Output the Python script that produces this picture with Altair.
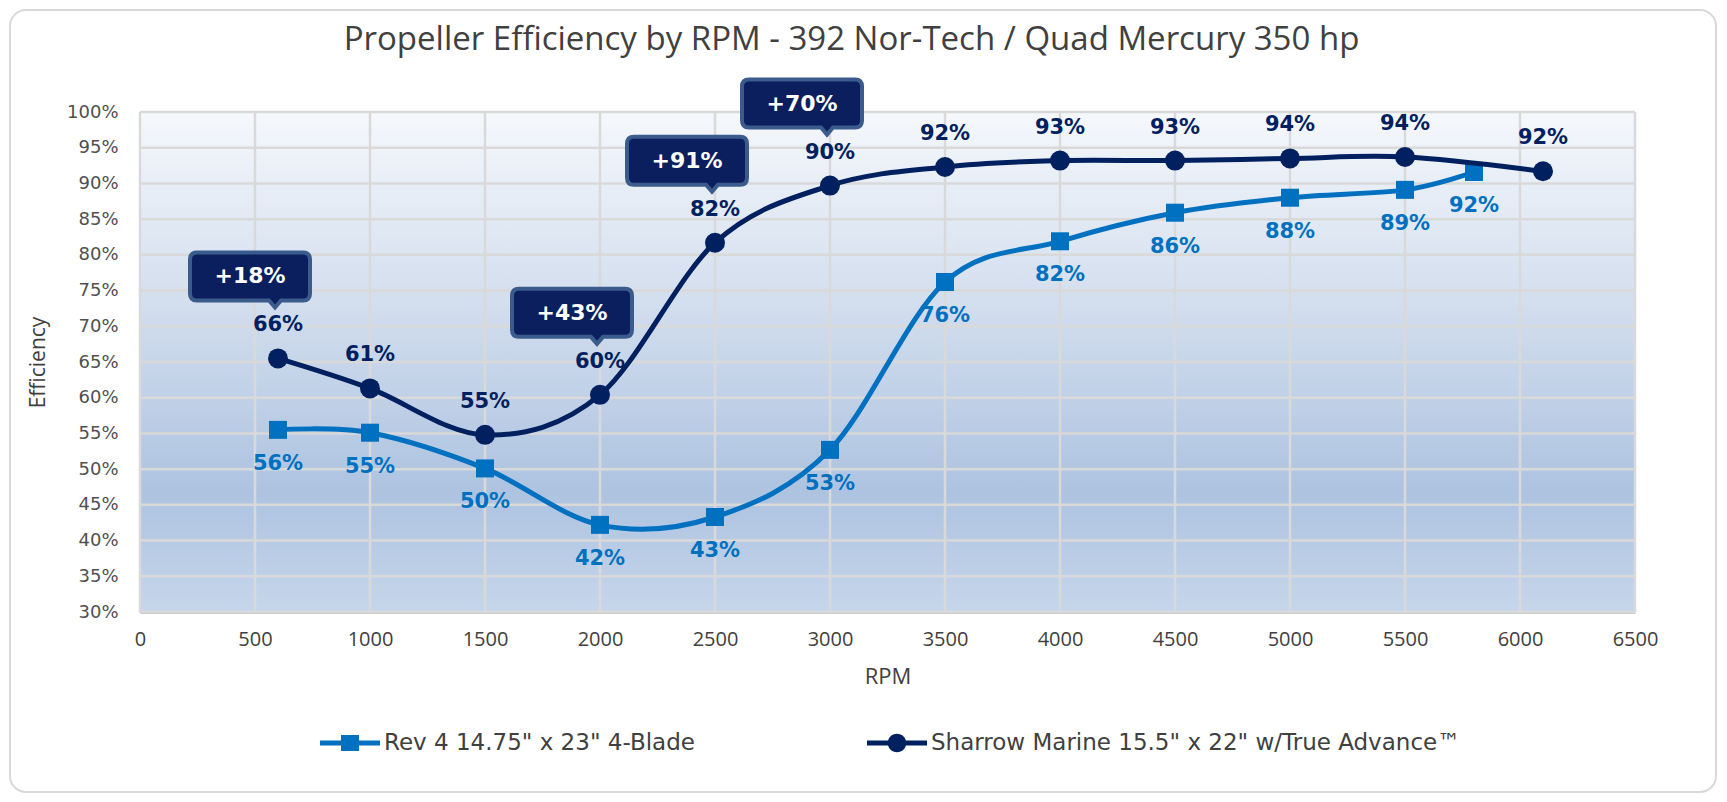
import altair as alt
import pandas as pd

# ---- data ----
rev_rpm = [600, 1000, 1500, 2000, 2500, 3000, 3500, 4000, 4500, 5000, 5500, 5800]
rev_eff = [55.5, 55.1, 50.1, 42.2, 43.3, 52.7, 76.2, 81.9, 85.9, 88.0, 89.1, 91.6]
rev_lbl = ["56%", "55%", "50%", "42%", "43%", "53%", "76%", "82%", "86%", "88%", "89%", "92%"]

sha_rpm = [600, 1000, 1500, 2000, 2500, 3000, 3500, 4000, 4500, 5000, 5500, 6100]
sha_eff = [65.5, 61.3, 54.8, 60.4, 81.7, 89.7, 92.3, 93.2, 93.2, 93.5, 93.7, 91.7]
sha_lbl = ["66%", "61%", "55%", "60%", "82%", "90%", "92%", "93%", "93%", "94%", "94%", "92%"]

gain_rpm = [600, 2000, 2500, 3000]
gain_lbl = ["+18%", "+43%", "+91%", "+70%"]

series_names = ['Rev 4 14.75" x 23" 4-Blade', 'Sharrow Marine 15.5" x 22" w/True Advance\u2122']
series_colors = ["#0070C0", "#002060"]

x_ticks = list(range(0, 6501, 500))
y_ticks = list(range(30, 101, 5))

TITLE = ["Propeller Efficiency by RPM - 392 Nor-Tech / Quad Mercury 350 hp"]

# ---- tables ----
rev_df = pd.DataFrame({"rpm": rev_rpm, "eff": rev_eff, "lbl": rev_lbl})
sha_df = pd.DataFrame({"rpm": sha_rpm, "eff": sha_eff, "lbl": sha_lbl})
gain_df = pd.DataFrame({"rpm": gain_rpm, "gain": gain_lbl}).merge(sha_df[["rpm", "eff"]], on="rpm")
legend_df = pd.DataFrame({"rpm": [0, 0], "eff": [50, 50], "series": series_names})
xgrid_df = pd.DataFrame({"rpm": x_ticks})
ygrid_df = pd.DataFrame({"eff": y_ticks})
one_df = pd.DataFrame({"k": [0]})
title_df = pd.DataFrame({"t": TITLE})

W, H = 1495, 500
PAD = {"left": 132, "top": 104, "right": 83, "bottom": 182}
GRID = "#d9d9d9"

x_enc = alt.X(
    "rpm:Q",
    scale=alt.Scale(domain=[0, 6500], nice=False, zero=False),
    axis=alt.Axis(
        values=x_ticks, title="RPM", ticks=False, grid=False, labelPadding=17,
        format="d",
        labelFont="Open Sans", labelFontSize=20, labelColor="#404040",
        titleFont="Open Sans", titleFontSize=22, titleFontWeight="normal",
        titleColor="#404040", titlePadding=17,
        domainColor="#c4c4c4", domainWidth=3, labelFlush=False,
    ),
)
y_enc = alt.Y(
    "eff:Q",
    scale=alt.Scale(domain=[30, 100], nice=False, zero=False),
    axis=alt.Axis(
        values=y_ticks, title="Efficiency", ticks=False, grid=False, labelPadding=22,
        labelExpr="datum.value + '%'",
        labelFont="DejaVu Sans", labelFontSize=18, labelColor="#505050",
        titleFont="Open Sans", titleFontSize=21, titleFontWeight="normal",
        titleColor="#404040", titlePadding=18,
        domainColor="#c4c4c4", domainWidth=3,
    ),
)

# outer rounded card (stroke only)
card = alt.Chart(one_df).mark_rect(
    fill="transparent", stroke="#d9d9d9", strokeWidth=2, cornerRadius=16
).encode(
    x=alt.value(-PAD["left"] + 2), x2=alt.value(W + PAD["right"] - 2),
    y=alt.value(-PAD["top"] + 2), y2=alt.value(H + PAD["bottom"] - 2),
)

title = alt.Chart(title_df).mark_text(
    font="Open Sans", fontSize=33, color="#404040", align="center", baseline="middle"
).encode(x=alt.value(W / 2 - 36), y=alt.value(-72), text="t:N")

grad = alt.LinearGradient(
    gradient="linear", x1=0, y1=0, x2=0, y2=1,
    stops=[
        alt.GradientStop(offset=0, color="#f5f8fc"),
        alt.GradientStop(offset=0.38, color="#d3deee"),
        alt.GradientStop(offset=0.76, color="#adc3e0"),
        alt.GradientStop(offset=1, color="#c6d6eb"),
    ],
)
plot_bg = alt.Chart(one_df).mark_rect(fill=grad).encode(
    x=alt.value(0), x2=alt.value(W), y=alt.value(0), y2=alt.value(H)
)

xgrid = alt.Chart(xgrid_df).mark_rule(color=GRID, strokeWidth=2.5).encode(x=x_enc)
ygrid = alt.Chart(ygrid_df).mark_rule(color=GRID, strokeWidth=2.5).encode(y=y_enc)


def series_layers(df, color, shape, size, label_dy):
    line = alt.Chart(df).mark_line(
        interpolate="cardinal", strokeWidth=5, color=color, strokeCap="round"
    ).encode(x=x_enc, y=y_enc)
    pts = alt.Chart(df).mark_point(
        shape=shape, filled=True, size=size, color=color, opacity=1
    ).encode(x=x_enc, y=y_enc)
    lbl = alt.Chart(df).mark_text(
        font="DejaVu Sans", fontWeight="bold", fontSize=21, color=color,
        dy=label_dy, baseline="middle", align="center"
    ).encode(x=x_enc, y=y_enc, text="lbl:N")
    return [line, pts, lbl]


rev_layers = series_layers(rev_df, series_colors[0], "square", 324, 34)
sha_layers = series_layers(sha_df, series_colors[1], "circle", 400, -33)

# callout boxes anchored at the Sharrow points
box_path = ("M-81,-106 L25,-106 Q32,-106 32,-99 L32,-65 Q32,-58 25,-58 "
            "L3,-58 L-3,-51 L-9,-58 L-81,-58 Q-88,-58 -88,-65 L-88,-99 "
            "Q-88,-106 -81,-106 Z")
boxes = alt.Chart(gain_df).mark_point(
    shape=box_path, size=4, filled=True, fill="#0b1f5e", stroke="#3b5b8c",
    strokeWidth=4, opacity=1
).encode(x=x_enc, y=y_enc)
box_text = alt.Chart(gain_df).mark_text(
    font="DejaVu Sans", fontWeight="bold", fontSize=22, color="white",
    dx=-28, dy=-82, baseline="middle", align="center"
).encode(x=x_enc, y=y_enc, text="gain:N")

# legend (line + marker symbols), from an empty layer with explicit domains
rev_sym = ("M-1,-0.08 L1,-0.08 L1,0.08 L-1,0.08 Z "
           "M-0.3,-0.27 L0.3,-0.27 L0.3,0.27 L-0.3,0.27 Z")
sha_sym = ("M-1,-0.08 L1,-0.08 L1,0.08 L-1,0.08 Z "
           "M0.31,0 A0.31,0.31 0 1,1 -0.31,0 A0.31,0.31 0 1,1 0.31,0 Z")
leg = alt.Legend(
    title=None, orient="none", direction="horizontal",
    legendX=180, legendY=601, symbolSize=3600, symbolStrokeWidth=0,
    labelFont="DejaVu Sans", labelFontSize=23, labelColor="#404040",
    labelLimit=800, columnPadding=172, labelOffset=4,
)
legend_layer = alt.Chart(legend_df).transform_filter("datum.rpm < 0").mark_point(
    filled=True, opacity=1
).encode(
    x=x_enc, y=y_enc,
    color=alt.Color("series:N", scale=alt.Scale(domain=series_names, range=series_colors), legend=leg),
    shape=alt.Shape("series:N", scale=alt.Scale(domain=series_names, range=[rev_sym, sha_sym]), legend=leg),
)

chart = alt.layer(
    card, title, plot_bg, xgrid, ygrid, *rev_layers, *sha_layers, boxes, box_text, legend_layer
).properties(
    width=W, height=H,
    autosize=alt.AutoSizeParams(type="none"),
    padding=PAD,
    background="white",
).configure_view(
    stroke=None
)

chart.save("out.html", embed_options={"renderer": "svg", "actions": False})
